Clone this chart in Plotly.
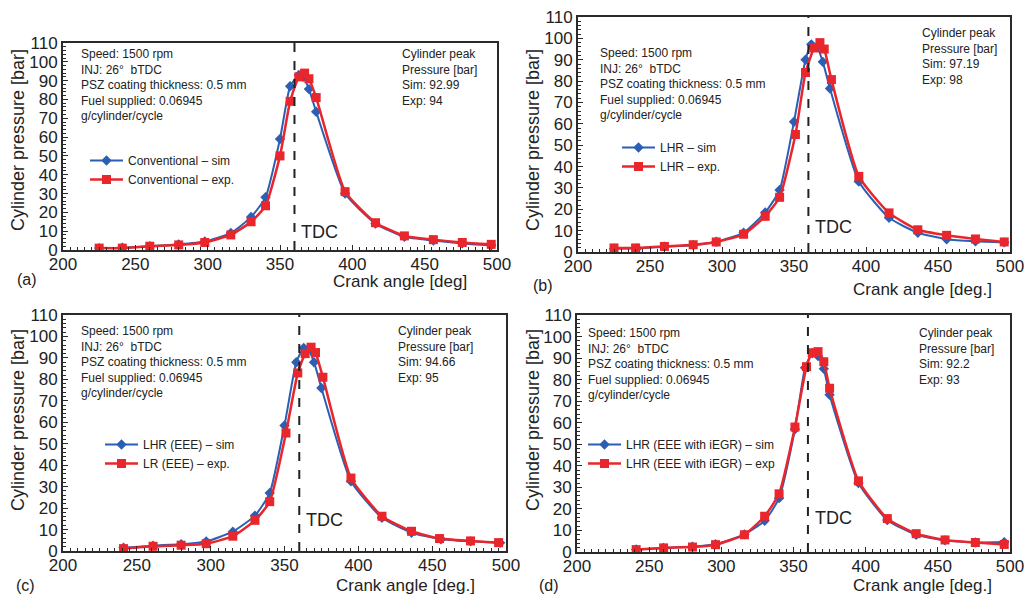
import plotly.graph_objects as go

# ---- data: crank angle [deg] vs cylinder pressure [bar] ----
A_SIM_X = [225, 241, 260, 280, 298, 316, 330, 340, 350, 357, 363, 366, 370, 375, 395, 416, 436, 456, 476, 496]
A_SIM_Y = [1.0, 1.2, 2.0, 3.0, 4.5, 9.0, 17.5, 28.0, 59.0, 87.0, 92.99, 92.0, 85.5, 73.5, 30.0, 14.0, 7.0, 5.0, 3.5, 2.5]
A_EXP_X = [225, 241, 260, 280, 298, 316, 330, 340, 350, 357, 363, 367, 370, 375, 395, 416, 436, 456, 476, 496]
A_EXP_Y = [1.0, 1.0, 2.0, 2.7, 4.0, 8.0, 15.0, 23.5, 50.0, 79.0, 92.0, 94.0, 91.0, 81.0, 31.0, 14.5, 7.5, 5.5, 4.0, 3.0]

B_SIM_X = [225, 241, 260, 280, 296, 315, 330, 340, 350, 358, 362, 366, 370, 375, 395, 416, 436, 456, 476, 496]
B_SIM_Y = [1.5, 1.7, 2.5, 3.2, 4.8, 9.0, 18.5, 29.0, 61.0, 90.0, 97.19, 96.0, 89.0, 76.5, 33.0, 16.0, 9.0, 6.0, 5.0, 4.5]
B_EXP_X = [225, 240, 260, 280, 296, 315, 330, 340, 351, 358, 364, 368, 371, 376, 395, 416, 436, 456, 476, 496]
B_EXP_Y = [1.9, 1.9, 2.6, 3.4, 4.7, 8.3, 16.7, 25.6, 55.0, 84.0, 95.5, 98.0, 95.0, 80.7, 35.4, 18.3, 10.4, 7.8, 6.1, 4.7]

C_SIM_X = [241, 261, 280, 297, 315, 330, 340, 350, 358, 363, 366, 370, 375, 395, 416, 436, 456, 476, 496]
C_SIM_Y = [1.5, 2.5, 3.2, 4.5, 9.0, 16.5, 27.0, 58.5, 88.0, 94.66, 94.0, 88.0, 76.0, 32.5, 15.5, 8.5, 5.5, 4.5, 3.8]
C_EXP_X = [241, 261, 280, 297, 315, 330, 340, 351, 359, 364, 368, 371, 376, 395, 416, 436, 455, 476, 495]
C_EXP_Y = [1.1, 2.2, 2.7, 3.4, 6.9, 14.3, 23.0, 55.0, 83.0, 92.0, 95.0, 92.5, 81.0, 34.0, 16.2, 9.2, 5.8, 4.7, 3.9]

D_SIM_X = [241, 260, 280, 296, 316, 330, 340, 351, 358, 363, 367, 371, 375, 395, 415, 435, 455, 476, 496]
D_SIM_Y = [1.2, 1.9, 2.5, 3.6, 8.2, 14.5, 25.0, 57.0, 85.5, 92.2, 91.0, 85.0, 73.0, 32.0, 14.8, 8.0, 5.4, 4.4, 4.6]
D_EXP_X = [241, 260, 280, 296, 316, 330, 340, 351, 359, 363, 367, 371, 375, 395, 415, 435, 455, 476, 496]
D_EXP_Y = [1.1, 1.9, 2.3, 3.4, 8.0, 16.6, 27.0, 58.0, 86.0, 92.5, 93.0, 88.3, 76.0, 33.0, 15.5, 8.5, 5.6, 4.4, 3.5]

SIM_NAMES = ["Conventional – sim", "LHR – sim", "LHR (EEE) – sim", "LHR (EEE with iEGR) – sim"]
EXP_NAMES = ["Conventional – exp.", "LHR – exp.", "LR (EEE) – exp.", "LHR (EEE with iEGR) – exp"]
PEAK_SIM = ["92.99", "97.19", "94.66", "92.2"]
PEAK_EXP = ["94", "98", "95", "93"]
PANEL_TAGS = ["(a)", "(b)", "(c)", "(d)"]
X_TITLES = ["Crank angle [deg]", "Crank angle [deg.]", "Crank angle [deg.]", "Crank angle [deg.]"]
TDC_ANGLE = 360
X_TICKS = [200, 250, 300, 350, 400, 450, 500]
Y_TICKS = list(range(0, 111, 10))

W, H = 1029, 596
FONT = "Liberation Sans, Arial, sans-serif"
BLUE = "#2c5fb4"
RED = "#e8262b"
INK = "#222222"
FRAME = "#2a2a2a"

def px_x(p):
    return p / W

def px_y(p):
    return 1 - p / H

# plot-area boxes in pixels: (left, right, top, bottom)
boxes = [(63, 497, 43, 250), (578, 1010, 17, 252), (63, 506, 315, 551), (577, 1010, 315, 552)]
# legend anchor (left, top) in pixels
legend_pos = [(85, 146), (617, 133), (100, 430), (583, 430)]
# info text positions: left block (x, first-line y), right block (x, first-line y)
info_left = [(79, 53), (598, 52), (79, 330), (586, 332)]
info_right = [(400, 53), (920, 32), (396, 330), (917, 332)]
tag_pos = [(27, 279), (543, 285), (25, 585), (549, 585)]
xtitle_pos = [(400, 281), (922, 289), (405, 585), (922, 585)]
ytitle_pos = [(18, 140), (533, 140), (18, 420), (533, 420)]
tdc_y = [232, 227, 520, 518]

series = [
    (A_SIM_X, A_SIM_Y, A_EXP_X, A_EXP_Y),
    (B_SIM_X, B_SIM_Y, B_EXP_X, B_EXP_Y),
    (C_SIM_X, C_SIM_Y, C_EXP_X, C_EXP_Y),
    (D_SIM_X, D_SIM_Y, D_EXP_X, D_EXP_Y),
]

fig = go.Figure()
annotations = []
shapes = []
layout = {}

for i, (sx, sy, ex, ey) in enumerate(series):
    k = "" if i == 0 else str(i + 1)
    xa, ya = "x" + k, "y" + k
    leg = "legend" + k
    left, right, top, bottom = boxes[i]

    fig.add_trace(go.Scatter(
        x=sx, y=sy, name=SIM_NAMES[i], xaxis=xa, yaxis=ya, legend=leg,
        mode="lines+markers", line=dict(color=BLUE, width=2, shape="spline", smoothing=0.5),
        marker=dict(symbol="diamond", size=8, color=BLUE),
    ))
    fig.add_trace(go.Scatter(
        x=ex, y=ey, name=EXP_NAMES[i], xaxis=xa, yaxis=ya, legend=leg,
        mode="lines+markers", line=dict(color=RED, width=2.5, shape="spline", smoothing=0.5),
        marker=dict(symbol="square", size=9, color=RED),
    ))

    axis_common = dict(
        showline=True, linecolor=FRAME, linewidth=2, mirror=True,
        ticks="inside", ticklen=5, tickwidth=1.2, tickcolor=FRAME,
        showgrid=False, zeroline=False, automargin=False,
        tickfont=dict(family=FONT, size=17, color=INK),
    )
    layout["xaxis" + k] = dict(
        axis_common, domain=[px_x(left), px_x(right)], anchor=ya, range=[200, 500],
        tickvals=X_TICKS, ticklabelstandoff=-2,
        minor=dict(ticks="inside", ticklen=3, dtick=5, tickcolor=FRAME, tickwidth=1),
    )
    layout["yaxis" + k] = dict(
        axis_common, domain=[px_y(bottom), px_y(top)], anchor=xa, range=[0, 110],
        tickvals=Y_TICKS,
        minor=dict(ticks="inside", ticklen=3, dtick=2, tickcolor=FRAME, tickwidth=1),
    )
    lx, ly = legend_pos[i]
    layout[leg] = dict(
        x=px_x(lx), y=px_y(ly), xanchor="left", yanchor="top",
        bgcolor="rgba(0,0,0,0)", borderwidth=0, itemwidth=33, tracegroupgap=0,
        font=dict(family=FONT, size=12, color=INK),
    )

    # TDC marker
    shapes.append(dict(
        type="line", xref=xa, yref=ya, x0=TDC_ANGLE, x1=TDC_ANGLE, y0=0, y1=110,
        line=dict(color="#222222", width=2, dash="dash"),
    ))
    annotations.append(dict(
        xref="paper", yref="paper", x=px_x(left + (TDC_ANGLE - 200) / 300 * (right - left) + 5),
        y=px_y(tdc_y[i]), text="TDC", showarrow=False, xanchor="left", yanchor="middle",
        font=dict(family=FONT, size=18, color=INK),
    ))

    # test conditions and peak pressures
    ilx, ily = info_left[i]
    annotations.append(dict(
        xref="paper", yref="paper", x=px_x(ilx), y=px_y(ily - 8), xanchor="left", yanchor="top",
        align="left", showarrow=False,
        text="Speed: 1500 rpm<br>INJ: 26°  bTDC<br>PSZ coating thickness: 0.5 mm"
             "<br>Fuel supplied: 0.06945<br>g/cylinder/cycle",
        font=dict(family=FONT, size=12, color=INK),
    ))
    irx, iry = info_right[i]
    annotations.append(dict(
        xref="paper", yref="paper", x=px_x(irx), y=px_y(iry - 8), xanchor="left", yanchor="top",
        align="left", showarrow=False,
        text=f"Cylinder peak<br>Pressure [bar]<br>Sim: {PEAK_SIM[i]}<br>Exp: {PEAK_EXP[i]}",
        font=dict(family=FONT, size=12, color=INK),
    ))

    # panel tag and axis titles
    tx, ty = tag_pos[i]
    annotations.append(dict(
        xref="paper", yref="paper", x=px_x(tx), y=px_y(ty), text=PANEL_TAGS[i], showarrow=False,
        xanchor="center", yanchor="middle", font=dict(family=FONT, size=16, color=INK),
    ))
    xtx, xty = xtitle_pos[i]
    annotations.append(dict(
        xref="paper", yref="paper", x=px_x(xtx), y=px_y(xty), text=X_TITLES[i], showarrow=False,
        xanchor="center", yanchor="middle", font=dict(family=FONT, size=17, color=INK),
    ))
    ytx, yty = ytitle_pos[i]
    annotations.append(dict(
        xref="paper", yref="paper", x=px_x(ytx), y=px_y(yty), text="Cylinder pressure [bar]",
        showarrow=False, textangle=-90, xanchor="center", yanchor="middle",
        font=dict(family=FONT, size=18, color=INK),
    ))

fig.update_layout(
    template="none",
    width=W, height=H, margin=dict(l=0, r=0, t=0, b=0, pad=0, autoexpand=False),
    paper_bgcolor="white", plot_bgcolor="white",
    font=dict(family=FONT, color=INK),
    shapes=shapes, annotations=annotations, **layout,
)

fig.write_html("out.html")
